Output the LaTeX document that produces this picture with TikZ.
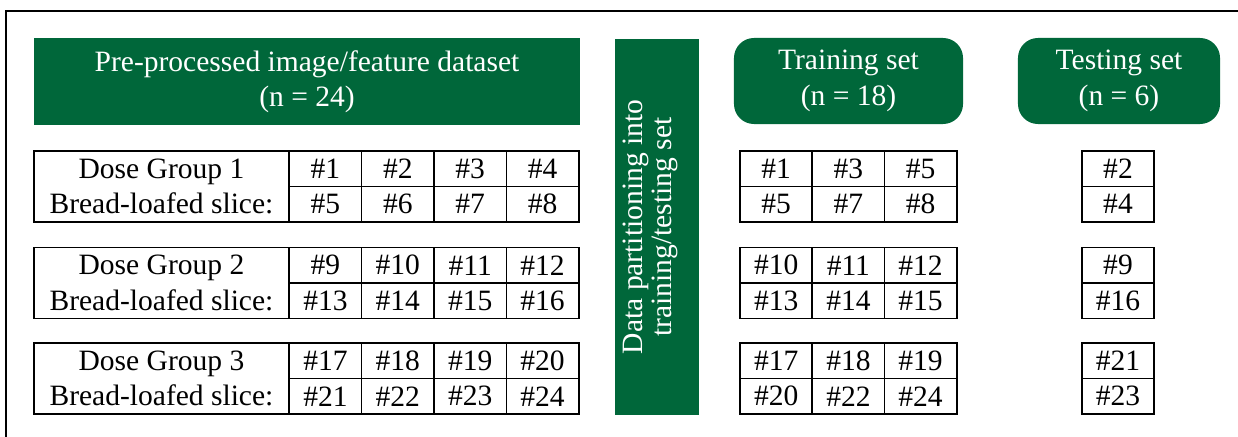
\documentclass[tikz,border=0pt]{standalone}
\usepackage{fontspec}
\setmainfont{Liberation Serif}
\newfontfamily\timesfont{Liberation Serif}
\usetikzlibrary{positioning}
\definecolor{dgreen}{RGB}{0,103,58}

\begin{document}
\begin{tikzpicture}[x=0.025cm, y=-0.025cm, font=\timesfont\fontsize{21}{25.2}\selectfont,
	head/.style={fill=dgreen, text=white, align=center, inner sep=0},
	cell/.style={draw, line width=1.2pt, minimum width=1.81cm, minimum height=0.8875cm, inner sep=0},
	doselabel/.style={draw, line width=1.2pt, minimum width=6.375cm, minimum height=1.775cm, inner sep=0, align=center}]
				\useasboundingbox (0,0) rectangle (1238,436);
				\draw[line width=1.4pt] (6,470) -- (6,11) -- (1270,11);
				% headers
				\node[head, minimum width=13.65cm, minimum height=2.175cm] (prep) at (307,81.5) {Pre-processed image/feature dataset\\(n = 24)};
				\node[head, minimum width=2.1cm, minimum height=9.4cm] (part) at (657,227) {};
				\node[text=white, align=center, inner sep=0, rotate=90, font=\timesfont\fontsize{21}{21}\selectfont] (parttext) at (650.5,227) {Data partitioning into\\training/testing set};
				\node[head, rounded corners=0.5cm, minimum width=5.725cm, minimum height=2.15cm] (train) at (848.5,81) {Training set\\(n = 18)};
				\node[head, rounded corners=0.5cm, minimum width=5.05cm, minimum height=2.15cm] (test) at (1119,81) {Testing set\\(n = 6)};
				% full dataset
				\foreach \g/\t in {1/151, 2/247.5, 3/343} {
					\node[doselabel] (dose\g) at (161.5,\t+35.5) {Dose Group \g\\Bread-loafed slice:};
					\foreach \c in {1,...,4} {
						\pgfmathtruncatemacro\na{8*(\g-1)+\c}
						\pgfmathtruncatemacro\nb{\na+4}
						\node[cell] (L\g a\c) at (253+72.4*\c,\t+17.75) {\#\na};
						\node[cell] (L\g b\c) at (253+72.4*\c,\t+53.25) {\#\nb};
					}
				}
				% training set
				\foreach \g/\t/\ra/\rb in {1/151/{1,3,5}/{5,7,8}, 2/247.5/{10,11,12}/{13,14,15}, 3/343/{17,18,19}/{20,22,24}} {
					\foreach \n [count=\c] in \ra
						\node[cell] (T\g a\c) at (704+72.2*\c,\t+17.75) {\#\n};
					\foreach \n [count=\c] in \rb
						\node[cell] (T\g b\c) at (704+72.2*\c,\t+53.25) {\#\n};
				}
				% testing set
				\foreach \g/\t/\na/\nb in {1/151/2/4, 2/247.5/9/16, 3/343/21/23} {
					\node[cell] (S\g a) at (1118,\t+17.75) {\#\na};
					\node[cell] (S\g b) at (1118,\t+53.25) {\#\nb};
				}
			\end{tikzpicture}
\end{document}
